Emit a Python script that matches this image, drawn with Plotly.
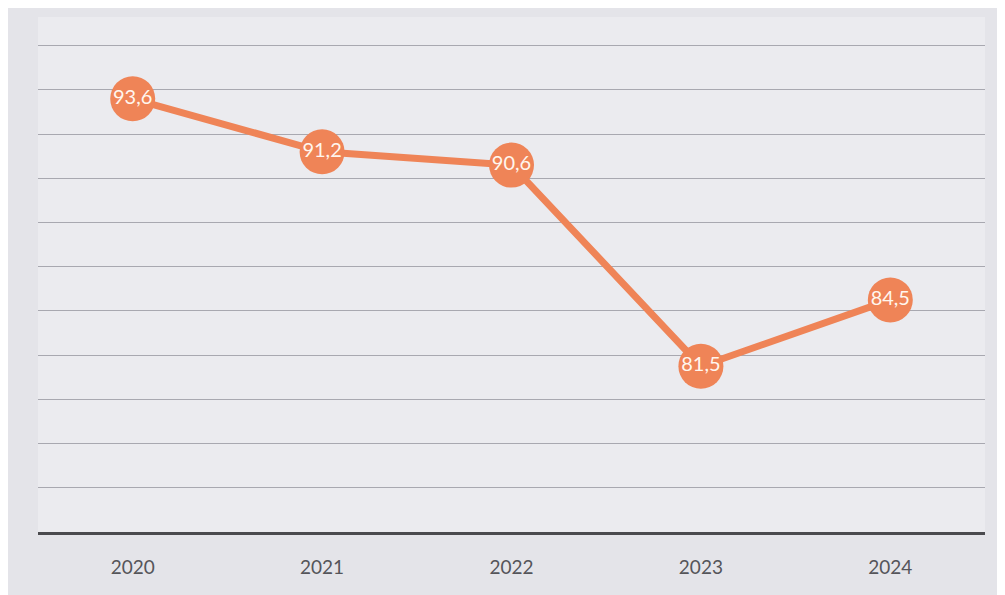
import plotly.graph_objects as go

years = ["2020", "2021", "2022", "2023", "2024"]
values = [93.6, 91.2, 90.6, 81.5, 84.5]
labels = [f"{v:.1f}".replace(".", ",") for v in values]

orange = "#ef8457"

fig = go.Figure()
fig.add_trace(go.Scatter(
    x=years, y=values,
    mode="lines+markers+text",
    line=dict(color=orange, width=7),
    marker=dict(size=45, color=orange, line=dict(width=0)),
    text=labels,
    textposition="middle center",
    textfont=dict(family="Lato, Open Sans, sans-serif", size=20, color="#fff6ee"),
    cliponaxis=False,
    hoverinfo="skip",
))

fig.update_layout(
    width=1005, height=595,
    margin=dict(l=30, r=28, t=9, b=71),
    paper_bgcolor="#e4e4e9",
    plot_bgcolor="#ebebef",
    showlegend=False,
    font=dict(family="Lato, Open Sans, sans-serif"),
)
fig.update_xaxes(
    type="category",
    range=[-0.5, 4.5],
    showgrid=False,
    showline=True, linecolor="#4a4a4e", linewidth=3,
    ticks="", tickfont=dict(size=19, color="#55555a"),
    ticklabelstandoff=16,
    zeroline=False,
)
fig.update_yaxes(
    range=[74, 97.3],
    dtick=2, tick0=74,
    showgrid=True, gridcolor="#a8a8b0", gridwidth=1,
    showticklabels=False, ticks="",
    zeroline=False, showline=False,
)

fig.write_html("out.html")
